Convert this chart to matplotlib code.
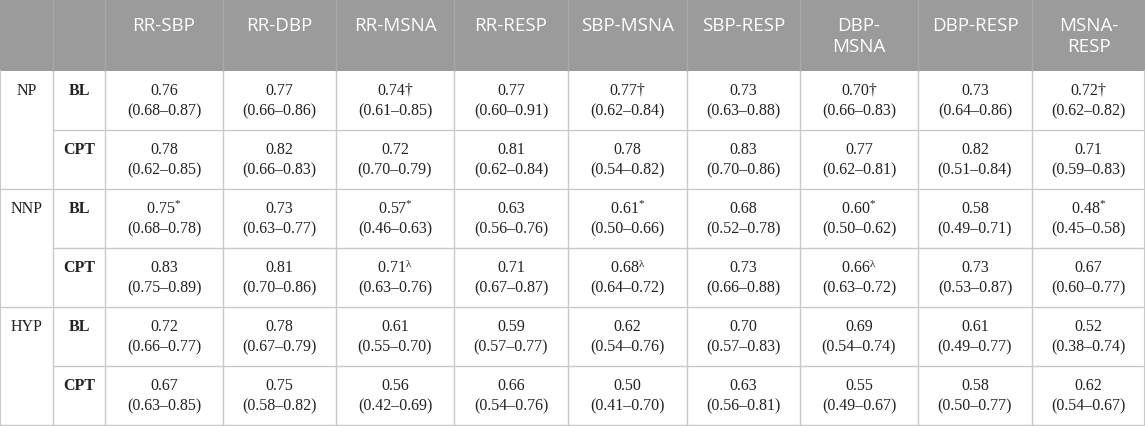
import matplotlib.pyplot as plt

# =============================================================================
# Correlation table: NP / NNP / HYP at baseline (BL) and cold pressor (CPT)
# =============================================================================

plt.rcParams["mathtext.fontset"] = "custom"
plt.rcParams["mathtext.rm"] = "Liberation Serif"
plt.rcParams["mathtext.it"] = "Liberation Serif:italic"

# -----------------------------
# Table data
# -----------------------------
pairs = ["RR-SBP", "RR-DBP", "RR-MSNA", "RR-RESP", "SBP-MSNA",
         "SBP-RESP", "DBP-\nMSNA", "DBP-RESP", "MSNA-\nRESP"]
groups = ["NP", "NNP", "HYP"]
conditions = ["BL", "CPT"]

np_bl = ["0.76", "0.77", "0.74†", "0.77", "0.77†", "0.73", "0.70†", "0.73", "0.72†"]
np_bl_ci = ["0.68–0.87", "0.66–0.86", "0.61–0.85", "0.60–0.91", "0.62–0.84",
            "0.63–0.88", "0.66–0.83", "0.64–0.86", "0.62–0.82"]
np_cpt = ["0.78", "0.82", "0.72", "0.81", "0.78", "0.83", "0.77", "0.82", "0.71"]
np_cpt_ci = ["0.62–0.85", "0.66–0.83", "0.70–0.79", "0.62–0.84", "0.54–0.82",
             "0.70–0.86", "0.62–0.81", "0.51–0.84", "0.59–0.83"]
nnp_bl = ["0.75*", "0.73", "0.57*", "0.63", "0.61*", "0.68", "0.60*", "0.58", "0.48*"]
nnp_bl_ci = ["0.68–0.78", "0.63–0.77", "0.46–0.63", "0.56–0.76", "0.50–0.66",
             "0.52–0.78", "0.50–0.62", "0.49–0.71", "0.45–0.58"]
nnp_cpt = ["0.83", "0.81", "0.71λ", "0.71", "0.68λ", "0.73", "0.66λ", "0.73", "0.67"]
nnp_cpt_ci = ["0.75–0.89", "0.70–0.86", "0.63–0.76", "0.67–0.87", "0.64–0.72",
              "0.66–0.88", "0.63–0.72", "0.53–0.87", "0.60–0.77"]
hyp_bl = ["0.72", "0.78", "0.61", "0.59", "0.62", "0.70", "0.69", "0.61", "0.52"]
hyp_bl_ci = ["0.66–0.77", "0.67–0.79", "0.55–0.70", "0.57–0.77", "0.54–0.76",
             "0.57–0.83", "0.54–0.74", "0.49–0.77", "0.38–0.74"]
hyp_cpt = ["0.67", "0.75", "0.56", "0.66", "0.50", "0.63", "0.55", "0.58", "0.62"]
hyp_cpt_ci = ["0.63–0.85", "0.58–0.82", "0.42–0.69", "0.54–0.76", "0.41–0.70",
              "0.56–0.81", "0.49–0.67", "0.50–0.77", "0.54–0.67"]

rows = [(np_bl, np_bl_ci), (np_cpt, np_cpt_ci),
        (nnp_bl, nnp_bl_ci), (nnp_cpt, nnp_cpt_ci),
        (hyp_bl, hyp_bl_ci), (hyp_cpt, hyp_cpt_ci)]

# -----------------------------
# Layout (pixel grid)
# -----------------------------
W, H = 1145, 426
col_edges = [0, 53, 105, 223, 336, 454, 568, 687, 800, 918, 1032, 1145]
header_h = 71
row_h = 59

header_bg = "#9b9b9b"
grid_col = "#c9c9c9"
text_col = "#222222"


def fmt_value(v):
    # * and lambda are drawn as superscripts, dagger stays inline
    if v.endswith("*"):
        return v[:-1] + r"$^{\mathrm{*}}$"
    if v.endswith("λ"):
        return v[:-1] + r"$^{\mathrm{λ}}$"
    return v


fig = plt.figure(figsize=(W / 100, H / 100), dpi=100)
ax = fig.add_axes([0, 0, 1, 1])
ax.set_xlim(0, W)
ax.set_ylim(H, 0)
ax.axis("off")

# header band
ax.add_patch(plt.Rectangle((0, 0), W, header_h, color=header_bg, lw=0))
for x in col_edges[1:-1]:
    ax.plot([x, x], [0, header_h], color="#a9a9a9", lw=1)

for j, name in enumerate(pairs):
    xc = (col_edges[j + 2] + col_edges[j + 3]) / 2
    ax.text(xc, 17, name, ha="center", va="top", color="white",
            fontsize=13.5, family="Open Sans", linespacing=1.2)

# body grid
y_bottom = header_h + row_h * len(rows)
for x in col_edges[1:-1]:
    ax.plot([x, x], [header_h, y_bottom], color=grid_col, lw=1)
ax.plot([0, 0], [header_h, y_bottom], color=grid_col, lw=1.5)
ax.plot([W, W], [header_h, y_bottom], color=grid_col, lw=1.5)
for i in range(1, len(rows) + 1):
    y = header_h + i * row_h
    x0 = 0 if i % 2 == 0 else col_edges[1]
    ax.plot([x0, W], [y, y], color=grid_col, lw=1)

# body text
for i, (vals, cis) in enumerate(rows):
    top = header_h + i * row_h
    if i % 2 == 0:
        ax.text(col_edges[1] / 2, top + 20, groups[i // 2], ha="center",
                va="center", fontsize=11.5, family="Liberation Serif",
                color=text_col)
    ax.text((col_edges[1] + col_edges[2]) / 2, top + 20, conditions[i % 2],
            ha="center", va="center", fontsize=11.5, family="Liberation Serif",
            weight="bold", color=text_col)
    for j in range(len(pairs)):
        xc = (col_edges[j + 2] + col_edges[j + 3]) / 2
        ax.text(xc, top + 20, fmt_value(vals[j]), ha="center", va="center",
                fontsize=11.5, family="Liberation Serif", color=text_col)
        ax.text(xc, top + 40, "(" + cis[j] + ")", ha="center", va="center",
                fontsize=11.5, family="Liberation Serif", color=text_col)

fig.savefig("out.png", dpi=100)
